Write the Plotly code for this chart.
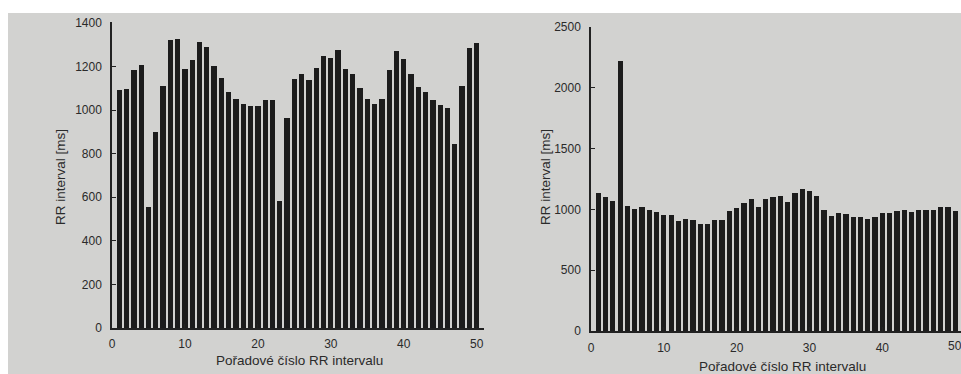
import plotly.graph_objects as go

# Left chart: RR intervals [ms]
left_index = list(range(1, 51))
left_rr = [1094, 1097, 1183, 1206, 554, 900, 1111, 1323, 1327, 1190,
           1229, 1311, 1288, 1201, 1149, 1082, 1051, 1028, 1017, 1019,
           1048, 1048, 583, 964, 1143, 1164, 1140, 1195, 1247, 1238,
           1278, 1189, 1166, 1102, 1051, 1030, 1053, 1183, 1273, 1236,
           1167, 1106, 1083, 1047, 1024, 1010, 846, 1111, 1283, 1308]

# Right chart: RR intervals [ms]
right_index = list(range(1, 51))
right_rr = [1131, 1103, 1068, 2221, 1030, 1005, 1016, 997, 975, 953,
            953, 904, 923, 909, 882, 876, 912, 915, 983, 1010,
            1049, 1082, 1016, 1082, 1103, 1114, 1065, 1136, 1164, 1150,
            1112, 999, 945, 967, 961, 939, 939, 923, 936, 967,
            967, 983, 991, 978, 994, 991, 997, 1019, 1019, 986]

x_ticks = [0, 10, 20, 30, 40, 50]
left_y_ticks = [0, 200, 400, 600, 800, 1000, 1200, 1400]
right_y_ticks = [0, 500, 1000, 1500, 2000, 2500]

x_title = "Pořadové číslo RR intervalu"
y_title = "RR interval [ms]"

W, H = 961, 374
BG = "#d2d2d0"
BAR = "#1c1c1c"
TXT = "#2a2a2a"
FONT = "Liberation Sans, Arial, sans-serif"

def px(x):
    return x / W

def py(y):
    return 1 - y / H

fig = go.Figure()
fig.add_trace(go.Bar(x=left_index, y=left_rr, width=0.72, marker=dict(color=BAR, line=dict(width=0)),
                     xaxis="x", yaxis="y", showlegend=False))
fig.add_trace(go.Bar(x=right_index, y=right_rr, width=0.72, marker=dict(color=BAR, line=dict(width=0)),
                     xaxis="x2", yaxis="y2", showlegend=False))

axis_common = dict(showgrid=False, zeroline=False, showline=True, linecolor="#222222", linewidth=1.5,
                   ticks="inside", ticklen=4, tickwidth=1.2, tickcolor="#222222",
                   tickfont=dict(family=FONT, size=12, color=TXT), fixedrange=True, automargin=False)

fig.update_layout(
    width=W, height=H,
    margin=dict(l=0, r=0, t=0, b=0, pad=0),
    paper_bgcolor=BG, plot_bgcolor="rgba(0,0,0,0)",
    bargap=0,
    xaxis=dict(domain=[px(112), px(484)], range=[0, 51], tickvals=x_ticks, anchor="y",
               ticklabelstandoff=4, **axis_common),
    yaxis=dict(domain=[py(328), py(22)], range=[0, 1400 * (306 / 305)], tickvals=left_y_ticks, anchor="x",
               ticklabelstandoff=6, **axis_common),
    xaxis2=dict(domain=[px(591), 1.0], range=[0, 50.8], tickvals=x_ticks[:-1], anchor="y2",
                ticklabelstandoff=5, **axis_common),
    yaxis2=dict(domain=[py(331), py(27)], range=[0, 2500], tickvals=right_y_ticks, anchor="x2",
                ticklabelstandoff=6, **axis_common),
    shapes=[
        dict(type="rect", xref="paper", yref="paper", x0=0, x1=1, y0=py(13), y1=1.02,
             fillcolor="white", line=dict(width=0), layer="below"),
        dict(type="rect", xref="paper", yref="paper", x0=-0.01, x1=px(8), y0=-0.02, y1=1.02,
             fillcolor="white", line=dict(width=0), layer="below"),
    ],
    annotations=[
        dict(text=str(x_ticks[-1]), xref="x2", yref="paper", x=x_ticks[-1], y=py(346), showarrow=False,
             font=dict(family=FONT, size=12, color=TXT), xanchor="center", yanchor="middle"),
        dict(text=x_title, xref="paper", yref="paper", x=px(299), y=py(360), showarrow=False,
             font=dict(family=FONT, size=13.5, color=TXT), xanchor="center", yanchor="middle"),
        dict(text=x_title, xref="paper", yref="paper", x=px(782), y=py(366), showarrow=False,
             font=dict(family=FONT, size=13.5, color=TXT), xanchor="center", yanchor="middle"),
        dict(text=y_title, xref="paper", yref="paper", x=px(60), y=py(177), showarrow=False, textangle=-90,
             font=dict(family=FONT, size=13.5, color=TXT), xanchor="center", yanchor="middle"),
        dict(text=y_title, xref="paper", yref="paper", x=px(545), y=py(177), showarrow=False, textangle=-90,
             font=dict(family=FONT, size=13.5, color=TXT), xanchor="center", yanchor="middle"),
    ],
)

fig.write_html("out.html", config={"displayModeBar": False},
               post_script="document.body.style.margin='0';document.body.style.overflow='hidden';")
